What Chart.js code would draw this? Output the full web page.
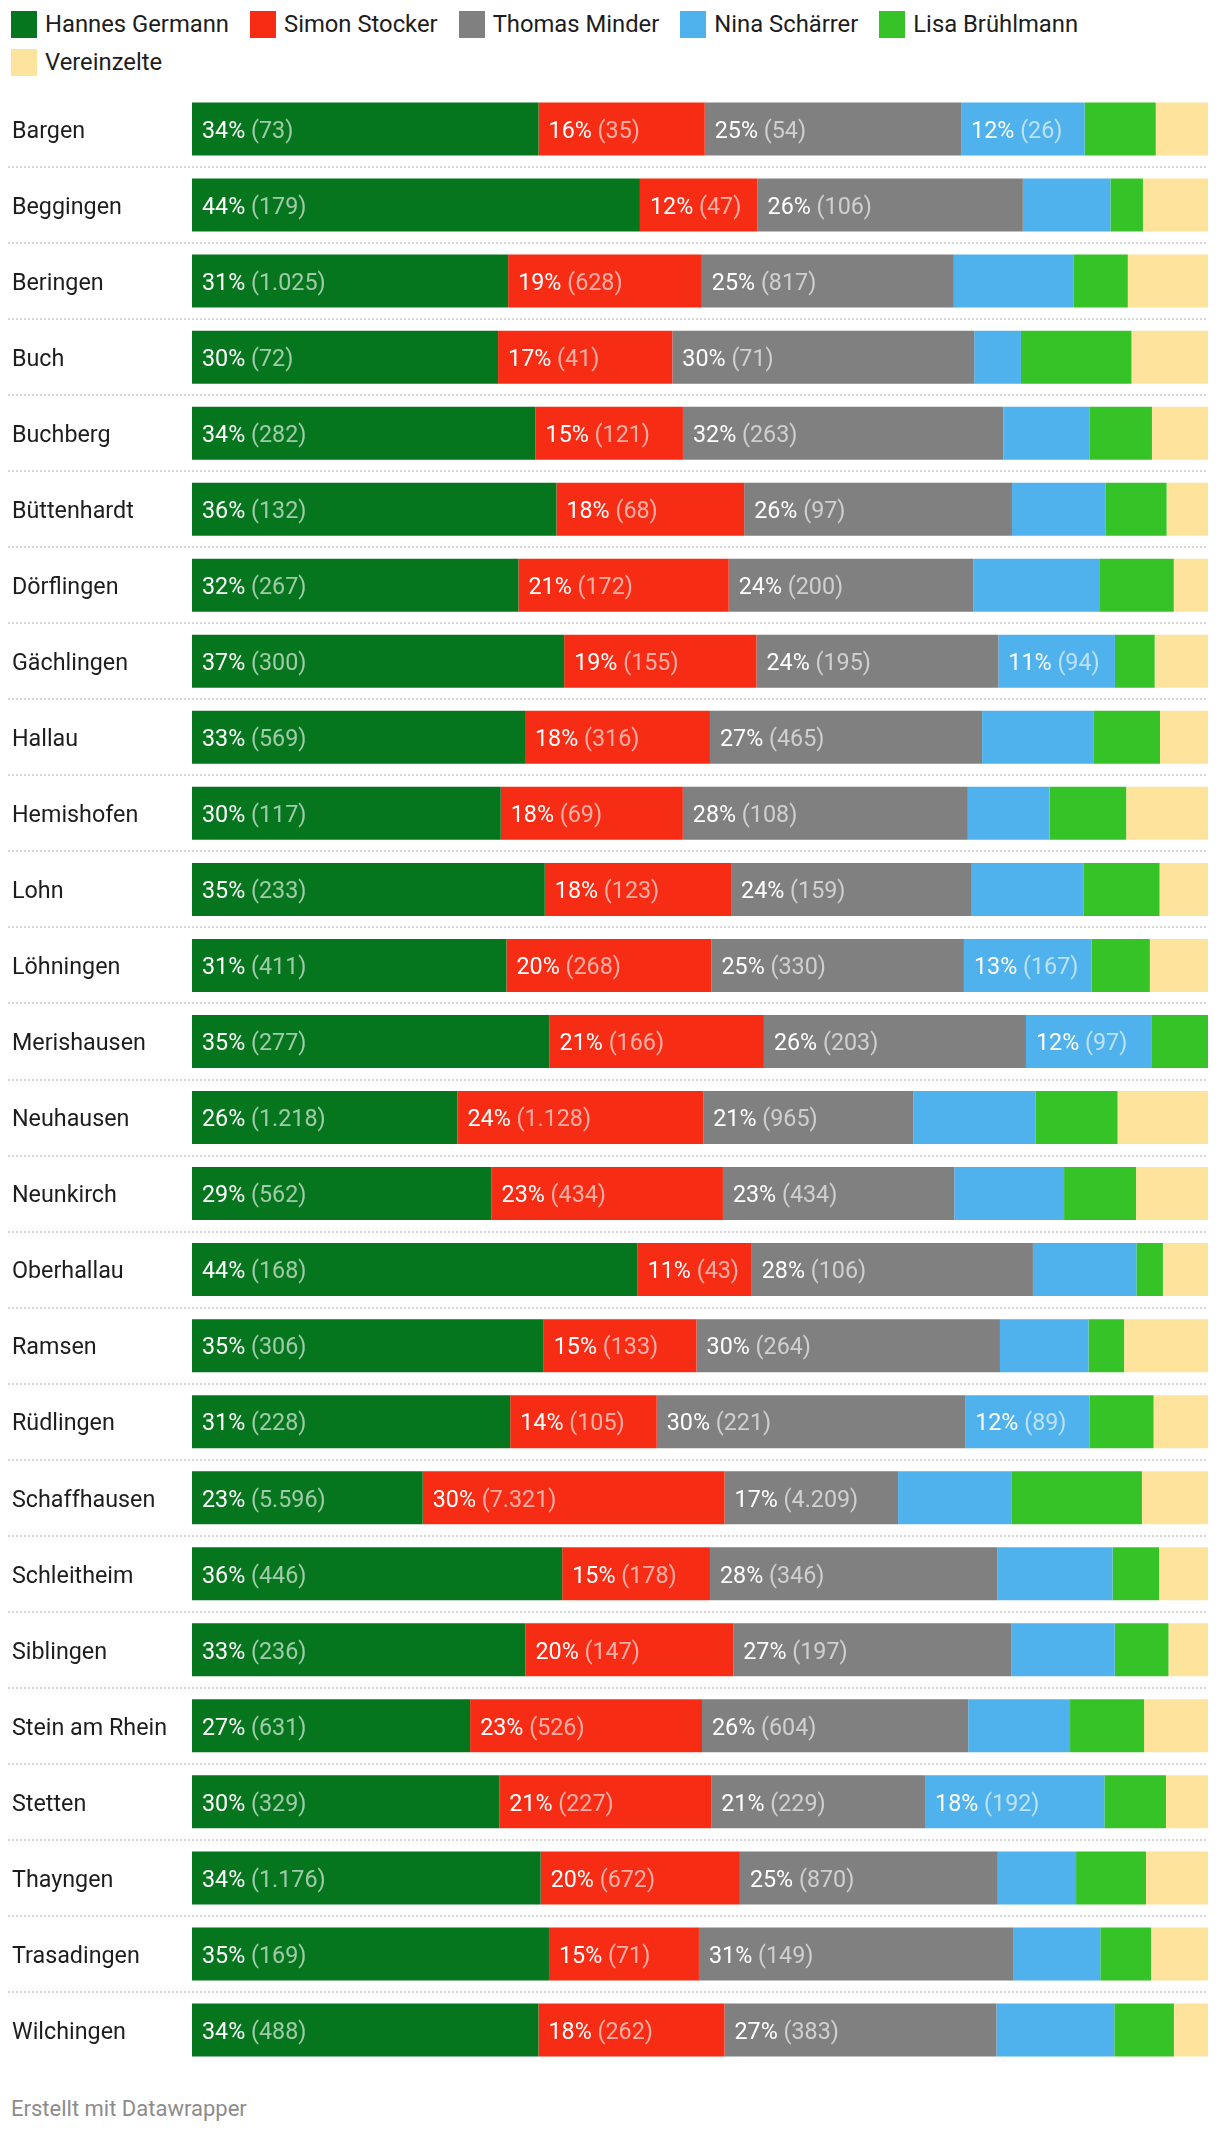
<!DOCTYPE html>
<html><head><meta charset="utf-8">
<script src="https://cdn.jsdelivr.net/npm/chart.js@4/dist/chart.umd.min.js"></script>
<style>
html,body{margin:0;padding:0;background:#fff;}
body{width:1220px;height:2134px;position:relative;font-family:Roboto,sans-serif;overflow:hidden}
#legend{position:absolute;left:11px;top:11px;width:1200px;display:flex;flex-wrap:wrap;row-gap:11px;}
.item{display:flex;align-items:center;margin-right:21px;font-size:23.8px;color:#1d1d1d;height:27px;line-height:27px}
.sw{width:26px;height:27px;margin-right:8px;flex:none}
#wrap{position:absolute;left:0;top:0;width:1220px;height:2090px}
#footer{position:absolute;left:11px;top:2096px;font-size:22px;line-height:26px;color:#8c8c8c}
</style></head>
<body>
<div id="legend"></div>
<div id="wrap"><canvas id="c"></canvas></div>
<div id="footer">Erstellt mit Datawrapper</div>
<script>
const municipalities = ["Bargen","Beggingen","Beringen","Buch","Buchberg","Büttenhardt","Dörflingen","Gächlingen","Hallau","Hemishofen","Lohn","Löhningen","Merishausen","Neuhausen","Neunkirch","Oberhallau","Ramsen","Rüdlingen","Schaffhausen","Schleitheim","Siblingen","Stein am Rhein","Stetten","Thayngen","Trasadingen","Wilchingen"];
const seriesNames = ["Hannes Germann","Simon Stocker","Thomas Minder","Nina Schärrer","Lisa Brühlmann","Vereinzelte"];
const germann    = [73,179,1025,72,282,132,267,300,569,117,233,411,277,1218,562,168,306,228,5596,446,236,631,329,1176,169,488];
const stocker    = [35,47,628,41,121,68,172,155,316,69,123,268,166,1128,434,43,133,105,7321,178,147,526,227,672,71,262];
const minder     = [54,106,817,71,263,97,200,195,465,108,159,330,203,965,434,106,264,221,4209,346,197,604,229,870,149,383];
const schaerrer  = [26,35,389,11,71,34,103,94,191,31,74,167,97,559,206,39,77,89,2760,139,73,231,192,264,41,166];
const bruehlmann = [15,13,175,26,51,22,61,32,113,29,50,76,44,377,135,10,31,46,3155,56,38,168,66,236,24,84];
const vereinzelte= [11,26,260,18,46,15,28,43,82,31,32,76,0,415,135,17,73,39,1602,59,28,145,45,209,27,48];

const colors = ["#06761e","#f72c14","#808080","#4fb2ec","#36c327","#fee39c"];
const allCounts = [germann,stocker,minder,schaerrer,bruehlmann,vereinzelte];
const totals = municipalities.map((_,i)=>allCounts.reduce((s,a)=>s+a[i],0));

// legend
const lg = document.getElementById('legend');
seriesNames.forEach((n,k)=>{
  const d=document.createElement('div'); d.className='item';
  d.innerHTML='<span class="sw" style="background:'+colors[k]+'"></span><span>'+n+'</span>';
  lg.appendChild(d);
});

function fmt(n){ return String(n).replace(/\B(?=(\d{3})+(?!\d))/g,'.'); }

const FONT = '23.3px Roboto';
const PAD = 10;
const labelPlugin = {
  id:'segLabels',
  afterDatasetsDraw(chart){
    const ctx = chart.ctx;
    ctx.save();
    ctx.font = FONT;
    ctx.textBaseline='middle';
    ctx.textAlign='left';
    chart.data.datasets.forEach((ds,di)=>{
      const meta = chart.getDatasetMeta(di);
      meta.data.forEach((bar,i)=>{
        const left = Math.min(bar.base,bar.x), right=Math.max(bar.base,bar.x);
        const w = right-left;
        const t1 = Math.round(ds.data[i])+'% ';
        const t2 = '('+fmt(ds.counts[i])+')';
        const tw = ctx.measureText(t1+t2).width;
        if (tw + 22.2 > w) return;
        ctx.fillStyle='#ffffff';
        ctx.fillText(t1,left+PAD,bar.y+3);
        ctx.fillStyle='rgba(255,255,255,0.62)';
        ctx.fillText(t2,left+PAD+ctx.measureText(t1).width,bar.y+3);
      });
    });
    ctx.restore();
  }
};
const sepPlugin = {
  id:'separators',
  beforeDatasetsDraw(chart){
    const ctx=chart.ctx, y=chart.scales.y;
    ctx.save();
    ctx.strokeStyle='#d6d6d6'; ctx.lineWidth=2; ctx.setLineDash([2,2]);
    for(let i=0;i<municipalities.length-1;i++){
      const yy = Math.round((y.getPixelForTick(i)+y.getPixelForTick(i+1))/2);
      ctx.beginPath(); ctx.moveTo(8,yy); ctx.lineTo(chart.chartArea.right,yy); ctx.stroke();
    }
    ctx.restore();
  }
};

new Chart(document.getElementById('c'),{
  type:'bar',
  data:{
    labels:municipalities,
    datasets:seriesNames.map((n,k)=>({
      label:n,
      data:allCounts[k].map((v,i)=>v/totals[i]*100),
      counts:allCounts[k],
      backgroundColor:colors[k],
      borderWidth:0,
      barPercentage:0.697,
      categoryPercentage:1
    }))
  },
  options:{
    indexAxis:'y',
    responsive:true,
    maintainAspectRatio:false,
    animation:false,
    layout:{padding:{left:12,right:12,top:91,bottom:22}},
    plugins:{legend:{display:false},tooltip:{enabled:false}},
    scales:{
      x:{stacked:true,min:0,max:100,display:false},
      y:{stacked:true,
         grid:{display:false},border:{display:false},
         ticks:{crossAlign:'far',padding:0,labelOffset:3,color:'#1d1d1d',font:{family:'Roboto',size:23.3}},
         afterFit(s){ s.width=180; }
      }
    }
  },
  plugins:[sepPlugin,labelPlugin]
});
</script>
</body></html>
